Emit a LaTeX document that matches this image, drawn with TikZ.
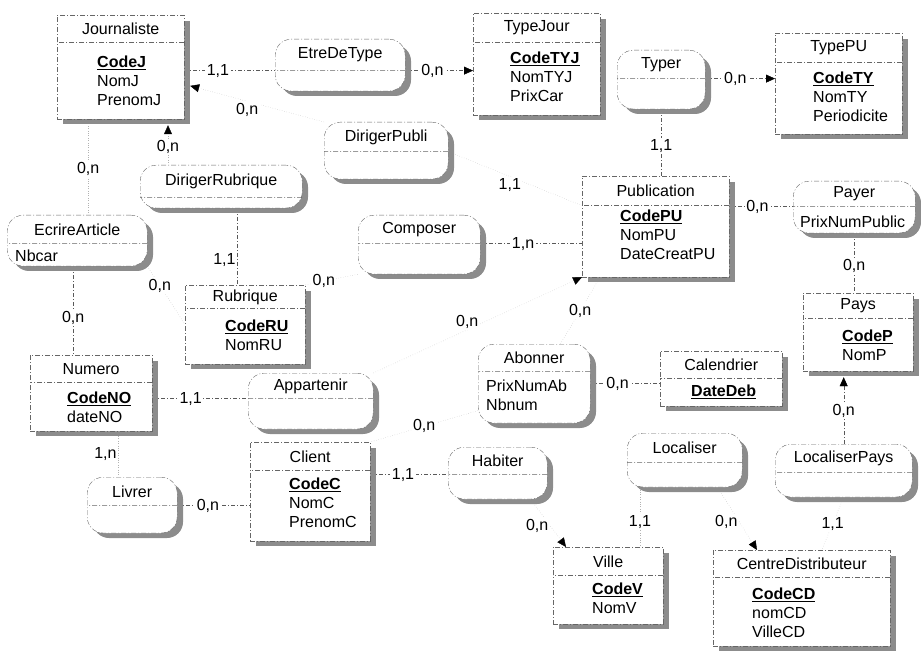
\documentclass[tikz,border=0pt]{standalone}
\usepackage{fontspec}
\setmainfont{Liberation Sans}
\usetikzlibrary{shapes.multipart,arrows.meta}

% links go under the boxes
\pgfdeclarelayer{liens}
\pgfsetlayers{liens,main}

% title cell, attribute cell, key attribute
\newcommand{\etitre}[3]{\parbox[c][#2pt][c]{#1pt}{\centering #3}}
\newcommand{\eattr}[5]{\parbox[t][#2pt][t]{#1pt}{\leftskip=#3pt\relax\rule{0pt}{#4pt}#5}}
\newcommand{\cle}[1]{\underline{\textbf{#1}}}

\begin{document}
\begin{tikzpicture}[x=1pt,y=-1pt,>={Triangle[length=9pt,width=8pt,color=black]},
	every node/.style={font=\fontsize{16}{19}\selectfont},
	entite/.style={rectangle split, rectangle split parts=2, anchor=north west, inner sep=0pt,
		draw=black!60, dash pattern=on 5pt off 2pt on 1pt off 2pt, fill=white},
	relation/.style={entite, rounded corners=16pt},
	ombrage/.style={draw=none, fill=black!45},
	lien/.style={draw=black!65, dash pattern=on 4pt off 2pt on 1pt off 2pt},
	pale/.style={draw=black!30, dotted},
	card/.style={fill=white, inner sep=1.5pt}]
	
	\useasboundingbox (0,0) rectangle (921,652);
	
	% Shadows of the entities
	\fill[ombrage] (63,21) rectangle (190,124);
	\fill[ombrage] (479,19) rectangle (606,120);
	\fill[ombrage] (781,39) rectangle (908,139);
	\fill[ombrage] (588,182) rectangle (735,282);
	\fill[ombrage] (809,299) rectangle (919,376);
	\fill[ombrage] (666,357) rectangle (788,411);
	\fill[ombrage] (191,291) rectangle (311,369);
	\fill[ombrage] (36,361) rectangle (158,436);
	\fill[ombrage] (256,448) rectangle (376,546);
	\fill[ombrage] (559,553) rectangle (669,629);
	\fill[ombrage] (719,556) rectangle (896,651);
	
	% Shadows of the associations
	\begin{scope}[rounded corners=16pt]
	\fill[ombrage] (281,45) rectangle (411,96);
	\fill[ombrage] (623,56) rectangle (711,114);
	\fill[ombrage] (330,128) rectangle (454,184);
	\fill[ombrage] (146,171) rectangle (308,213);
	\fill[ombrage] (13,221) rectangle (153,271);
	\fill[ombrage] (364,221) rectangle (486,279);
	\fill[ombrage] (799,187) rectangle (921,238);
	\fill[ombrage] (484,350) rectangle (596,428);
	\fill[ombrage] (254,379) rectangle (379,434);
	\fill[ombrage] (454,453) rectangle (553,504);
	\fill[ombrage] (633,439) rectangle (748,492);
	\fill[ombrage] (781,450) rectangle (918,502);
	\fill[ombrage] (93,483) rectangle (183,538);
	\end{scope}
	
	% Entities
	\node[entite] (journ) at (57,15) {\etitre{127}{27}{Journaliste}\nodepart{two}\eattr{127}{76}{40}{25}{\cle{CodeJ}\\NomJ\\PrenomJ}};
	\node[entite] (tjour) at (473,13) {\etitre{127}{29}{TypeJour}\nodepart{two}\eattr{127}{72}{37}{21}{\cle{CodeTYJ}\\NomTYJ\\PrixCar}};
	\node[entite] (tpu) at (775,33) {\etitre{127}{29}{TypePU}\nodepart{two}\eattr{127}{71}{38}{21}{\cle{CodeTY}\\NomTY\\Periodicite}};
	\node[entite] (publi) at (582,176) {\etitre{147}{29}{Publication}\nodepart{two}\eattr{147}{71}{38}{16}{\cle{CodePU}\\NomPU\\DateCreatPU}};
	\node[entite] (pays) at (803,293) {\etitre{110}{25}{Pays}\nodepart{two}\eattr{110}{52}{39}{23}{\cle{CodeP}\\NomP}};
	\node[entite] (calend) at (660,351) {\etitre{122}{27}{Calendrier}\nodepart{two}\eattr{122}{27}{31}{18}{\cle{DateDeb}}};
	\node[entite] (rubrique) at (185,285) {\etitre{120}{23}{Rubrique}\nodepart{two}\eattr{120}{55}{40}{23}{\cle{CodeRU}\\NomRU}};
	\node[entite] (numero) at (30,355) {\etitre{122}{27}{Numero}\nodepart{two}\eattr{122}{48}{37}{21}{\cle{CodeNO}\\dateNO}};
	\node[entite] (client) at (250,442) {\etitre{120}{28}{Client}\nodepart{two}\eattr{120}{70}{39}{19}{\cle{CodeC}\\NomC\\PrenomC}};
	\node[entite] (ville) at (553,547) {\etitre{110}{28}{Ville}\nodepart{two}\eattr{110}{48}{39}{19}{\cle{CodeV}\\NomV}};
	\node[entite] (cdist) at (713,550) {\etitre{177}{27}{CentreDistributeur}\nodepart{two}\eattr{177}{68}{39}{22}{\cle{CodeCD}\\nomCD\\VilleCD}};
	
	% Associations
	\node[relation] (etre) at (275,39) {\etitre{130}{31}{EtreDeType}\nodepart{two}\etitre{130}{20}{}};
	\node[relation] (typer) at (617,50) {\etitre{88}{28}{Typer}\nodepart{two}\etitre{88}{30}{}};
	\node[relation] (dpubli) at (324,122) {\etitre{124}{29}{DirigerPubli}\nodepart{two}\etitre{124}{27}{}};
	\node[relation] (drubr) at (140,165) {\etitre{162}{32}{DirigerRubrique}\nodepart{two}\etitre{162}{10}{}};
	\node[relation] (ecrire) at (7,215) {\etitre{140}{28}{EcrireArticle}\nodepart{two}\eattr{140}{22}{8}{18}{Nbcar}};
	\node[relation] (compo) at (358,215) {\etitre{122}{28}{Composer}\nodepart{two}\etitre{122}{30}{}};
	\node[relation] (payer) at (793,181) {\etitre{122}{25}{Payer}\nodepart{two}\eattr{122}{26}{7}{21}{PrixNumPublic}};
	\node[relation] (abonner) at (478,344) {\etitre{112}{27}{Abonner}\nodepart{two}\eattr{112}{51}{8}{20}{PrixNumAb\\Nbnum}};
	\node[relation] (appart) at (248,373) {\etitre{125}{25}{Appartenir}\nodepart{two}\etitre{125}{30}{}};
	\node[relation] (habiter) at (448,447) {\etitre{99}{27}{Habiter}\nodepart{two}\etitre{99}{24}{}};
	\node[relation] (loc) at (627,433) {\etitre{115}{29}{Localiser}\nodepart{two}\etitre{115}{24}{}};
	\node[relation] (locpays) at (775,444) {\etitre{137}{28}{LocaliserPays}\nodepart{two}\etitre{137}{24}{}};
	\node[relation] (livrer) at (87,477) {\etitre{90}{28}{Livrer}\nodepart{two}\etitre{90}{27}{}};
	
	\begin{pgfonlayer}{liens}
	% Journaliste side
	\draw[lien] (journ.east |- etre.text split west) -- node[card,pos=0.37]{1,1} (etre.text split west);
	\draw[lien,->] (etre.text split east) -- node[card,pos=0.4]{0,n} (tjour.west |- etre.text split east);
	\draw[pale,->,shorten >=6pt] (dpubli.north west) -- node[card,below,pos=0.55]{0,n} (journ);
	\draw[pale,->,shorten >=6pt] ([xshift=28pt]drubr.north west) -- node[card,pos=0.4]{0,n} ([xshift=28pt]drubr.north west |- journ.south);
	\draw[pale] ([xshift=11pt]ecrire.north) -- node[card,pos=0.48]{0,n} ([xshift=11pt]ecrire.north |- journ.south);
	
	% Typer, Payer, LocaliserPays
	\draw[lien,->] (typer.text split east) -- node[card,pos=0.43]{0,n} (tpu.west |- typer.text split east);
	\draw[lien] (typer.south) -- node[card,pos=0.55]{1,1} (typer.south |- publi.north);
	\draw[lien] (publi.east |- payer.text split west) -- node[card,pos=0.44]{0,n} (payer.text split west);
	\draw[lien] (payer.south) -- node[card,pos=0.55]{0,n} (payer.south |- pays.north);
	\draw[lien,->,shorten >=6pt] (locpays.north) -- node[card,pos=0.45]{0,n} (locpays.north |- pays.south);
	\draw[pale] (locpays.south) -- node[card]{1,1} (cdist);
	
	% Localiser, Habiter, Livrer
	\draw[pale] ([xshift=13pt]loc.south west) -- node[card,pos=0.58]{1,1} ([xshift=13pt]loc.south west |- ville.north);
	\draw[pale,->] ([xshift=-25pt]loc.south east) -- node[card,left,pos=0.55]{0,n} ([xshift=44pt]cdist.north west);
	\draw[lien] (client.east |- habiter.text split west) -- node[card,pos=0.42]{1,1} (habiter.text split west);
	\draw[pale,->] ([xshift=-17pt]habiter.south east) -- node[card,left,pos=0.55]{0,n} ([xshift=13pt]ville.north west);
	\draw[lien] (livrer.text split east) -- node[card,pos=0.42]{0,n} (client.west |- livrer.text split east);
	\draw[pale] ([xshift=27pt]numero.south) -- node[card,left]{1,n} ([xshift=27pt]numero.south |- livrer.north);
	
	% Appartenir, Abonner, Composer
	\draw[lien] (numero.east |- appart.text split west) -- node[card,pos=0.4]{1,1} (appart.text split west);
	\draw[pale,->] (appart.north east) -- node[card,above,pos=0.45]{0,n} (publi.south west);
	\draw[pale] ([xshift=-30pt]abonner.north east) -- node[card]{0,n} ([xshift=18pt]publi.south west);
	\draw[pale] ([yshift=-27pt]abonner.west) -- node[card]{0,n} (client.north east);
	\draw[lien] (abonner.east) -- node[card,pos=0.39]{0,n} (calend.west |- abonner.east);
	\draw[lien] (compo.text split east) -- node[card,pos=0.42]{1,n} (publi.west |- compo.text split east);
	\draw[pale] (rubrique.north east) -- node[card,pos=0.35]{0,n} (compo.south west);
	\draw[pale] (dpubli.text split east) -- node[card,below,pos=0.46]{1,1} (publi.text split west);
	
	% Rubrique side
	\draw[lien] ([xshift=16pt]drubr.south) -- node[card,left,pos=0.68]{1,1} ([xshift=16pt]drubr.south |- rubrique.north);
	\draw[lien] ([xshift=-4pt]ecrire.south) -- node[card,pos=0.58]{0,n} ([xshift=-4pt]ecrire.south |- numero.north);
	\draw[pale] (ecrire.south east) -- node[card,pos=0.33]{0,n} (rubrique.west);
	\end{pgfonlayer}
	
\end{tikzpicture}
\end{document}
